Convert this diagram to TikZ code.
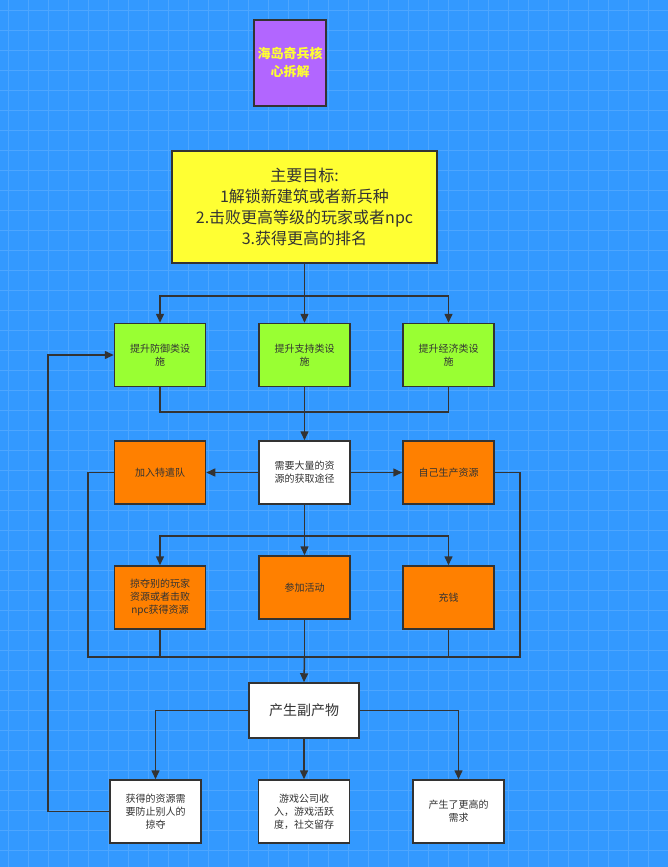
\documentclass[tikz,border=0pt]{standalone}
\usepackage{fontspec}
\setmainfont{Noto Sans CJK SC}
\usetikzlibrary{arrows.meta}
\definecolor{bg}{HTML}{3399FF}
\definecolor{gridc}{HTML}{4DA6FF}
\definecolor{ln}{HTML}{333333}
\definecolor{gr}{HTML}{99FF33}
\definecolor{org}{HTML}{FF8000}
\definecolor{pur}{HTML}{B266FF}
\definecolor{yel}{HTML}{FFFF33}
\begin{document}
\begin{tikzpicture}[x=1pt,y=-1pt,
  box/.style={draw=ln,line width=1.5pt,minimum width=91pt,minimum height=63pt,align=center,font=\fontsize{10}{13}\selectfont,text=ln,text width=80pt,inner sep=0pt},
  ar/.style={draw=ln,line width=1.5pt,-{Triangle[length=9pt,width=8pt]}},
  ln/.style={draw=ln,line width=1.5pt}]
\fill[bg] (0,0) rectangle (668,867);
\useasboundingbox (0,0) rectangle (668,867);
\foreach \i in {0,20,...,660} \draw[gridc,line width=0.6pt] (\i+8,0) -- (\i+8,867);
\foreach \i in {0,20,...,860} \draw[gridc,line width=0.6pt] (0,\i+10) -- (668,\i+10);
\node[box,fill=pur,minimum width=72pt,minimum height=86pt,text width=68pt,text=yel,font=\bfseries\fontsize{13}{18}\selectfont] (t) at (290,63) {海岛奇兵核\\心拆解};
\node[box,fill=yel,minimum width=265pt,minimum height=112pt,text width=260pt,font=\fontsize{16}{21}\selectfont] (g) at (304.5,207) {主要目标:\\1解锁新建筑或者新兵种\\2.击败更高等级的玩家或者npc\\3.获得更高的排名};
\node[box,fill=gr] (a1) at (160,355) {提升防御类设\\施};
\node[box,fill=gr] (a2) at (304.5,355) {提升支持类设\\施};
\node[box,fill=gr] (a3) at (448.5,355) {提升经济类设\\施};
\node[box,fill=org] (b1) at (160,472.5) {加入特遣队};
\node[box,fill=white] (b2) at (304.5,472.5) {需要大量的资\\源的获取途径};
\node[box,fill=org] (b3) at (448.5,472.5) {自己生产资源};
\node[box,fill=org] (c1) at (160,597.5) {掠夺别的玩家\\资源或者击败\\npc获得资源};
\node[box,fill=org] (c2) at (304.5,587.5) {参加活动};
\node[box,fill=org] (c3) at (448.5,597.5) {充钱};
\node[box,fill=white,minimum width=110pt,minimum height=55pt,text width=100pt,font=\fontsize{14}{18}\selectfont] (d) at (304,710.5) {产生副产物};
\node[box,fill=white] (e1) at (155.5,811.5) {获得的资源需\\要防止别人的\\掠夺};
\node[box,fill=white] (e2) at (304,811.5) {游戏公司收\\入，游戏活跃\\度，社交留存};
\node[box,fill=white] (e3) at (458.5,811.5) {产生了更高的\\需求};
\coordinate (j1) at (304.5,296);
\coordinate (j2) at (304.5,412);
\coordinate (j3) at (304.5,536);
\coordinate (j4) at (304.5,657);
\draw[ln] (g.south) -- (j1);
\draw[ar] (j1) -| (a1.north);
\draw[ar] (j1) -- (a2.north);
\draw[ar] (j1) -| (a3.north);
\draw[ln] (a1.south) |- (j2);
\draw[ln] (a3.south) |- (j2);
\draw[ln] (a2.south) -- (j2);
\draw[ar] (j2) -- (b2.north);
\draw[ar] (b2.west) -- (b1.east);
\draw[ar] (b2.east) -- (b3.west);
\draw[ar] (b2.south) -- (c2.north);
\draw[ar] (j3) -| (c1.north);
\draw[ar] (j3) -| (c3.north);
\draw[ln] (b1.west) -- (88,472.5) |- (j4);
\draw[ln] (b3.east) -- (520,472.5) |- (j4);
\draw[ln] (c1.south) -- (160,657);
\draw[ln] (c3.south) -- (448.5,657);
\draw[ln] (c2.south) -- (j4);
\draw[ar] (j4) -- (d.north);
\draw[ar] (d.west) -| (e1.north);
\draw[ar] (d.south) -- (e2.north);
\draw[ar] (d.east) -| (e3.north);
\draw[ar] (e1.west) -- (48,811.5) |- (a1.west);
\end{tikzpicture}
\end{document}
